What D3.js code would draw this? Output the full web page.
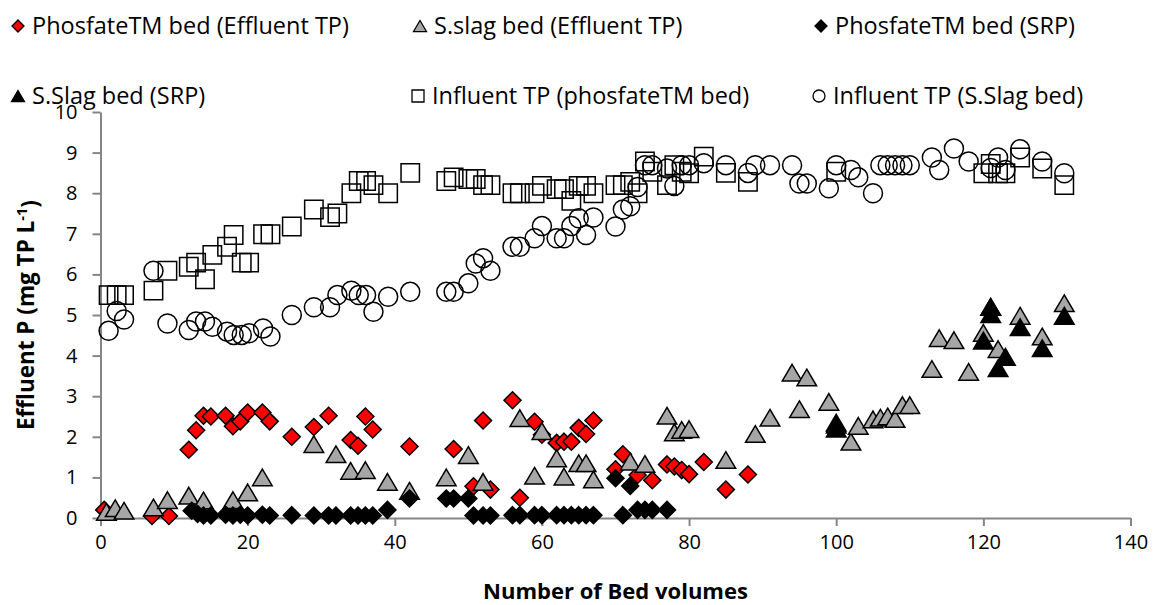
<!DOCTYPE html>
<html><head><meta charset="utf-8">
<script src="https://cdn.jsdelivr.net/npm/d3@7"></script>
<style>html,body{margin:0;padding:0;background:#fff;}svg{display:block;}</style>
</head><body>
<svg id="chart" width="1160" height="605"></svg>
<script>
// ---- data ----
const xTicks = [0,20,40,60,80,100,120,140];
const yTicks = [0,1,2,3,4,5,6,7,8,9,10];
const xTitle = "Number of Bed volumes";
const yTitle = "Effluent P (mg TP L";

const phosEffTP = [[0.5,0.2],[7,0.05],[9.3,0.05],[12,1.68],[13,2.16],[14,2.52],[15,2.5],[17,2.52],[18,2.26],[19,2.38],[20,2.6],[22,2.6],[23,2.38],[26,2.0],[29,2.24],[31,2.52],[34,1.92],[35,1.78],[36,2.5],[37,2.18],[42,1.76],[48,1.7],[50.7,0.78],[52,2.4],[53,0.7],[56,2.9],[57,0.5],[59,2.37],[60,2.05],[62,1.85],[63,1.88],[64,1.88],[65,2.22],[66,2.07],[67,2.4],[70,1.2],[71,1.57],[73,1.06],[75,0.93],[77,1.32],[78,1.27],[79,1.18],[80,1.08],[82,1.38],[85,0.7],[88,1.07]];
const slagEffTP = [[0.8,0.15],[2,0.24],[3.2,0.18],[7.2,0.26],[9.1,0.44],[12,0.55],[14,0.43],[18,0.44],[20,0.63],[22,1.0],[29,1.82],[32,1.57],[34,1.16],[36,1.18],[39,0.89],[42,0.67],[47,1.0],[50,1.55],[52,0.89],[57,2.46],[59,1.04],[60,2.14],[62,1.47],[63,1.02],[65,1.35],[66,1.35],[67,0.95],[72,1.39],[74,1.33],[77,2.52],[78,2.11],[79,2.17],[80,2.19],[85,1.43],[89,2.07],[91,2.47],[94,3.58],[95,2.68],[96,3.46],[99,2.86],[100,2.3],[102,1.88],[103,2.27],[105,2.43],[106,2.47],[107,2.5],[108,2.44],[109,2.78],[110,2.78],[113,3.67],[114,4.43],[116,4.38],[118,3.6],[120,4.56],[121,5.2],[122,4.16],[125,4.98],[128,4.47],[131,5.29]];
const phosSRP = [[12.4,0.18],[13.2,0.1],[14,0.06],[15,0.06],[17,0.08],[18,0.06],[19,0.08],[20,0.06],[22,0.08],[23,0.06],[26,0.07],[29,0.06],[31,0.06],[32,0.06],[34,0.06],[35,0.06],[36,0.06],[37,0.06],[39,0.2],[42,0.48],[47,0.48],[48,0.48],[50,0.48],[50.7,0.06],[52,0.06],[53,0.06],[56,0.07],[57,0.07],[59,0.07],[60,0.07],[62,0.07],[63,0.07],[64,0.07],[65,0.07],[66,0.07],[67,0.07],[70,0.98],[71,0.07],[72,0.79],[73,0.2],[74,0.2],[75,0.2],[77,0.2]];
const slagSRP = [[100,2.35],[100,2.2],[120,4.37],[121,5.2],[121,5.02],[122,3.69],[123,3.97],[125,4.7],[128,4.18],[131,4.98]];
const inflPhos = [[1.1,5.49],[2.2,5.49],[3.2,5.49],[7.2,5.6],[9.1,6.09],[12,6.19],[13,6.29],[14.2,5.88],[15.2,6.48],[17.2,6.68],[18.1,6.97],[19.2,6.29],[20.2,6.29],[22.1,6.99],[23.1,6.99],[26,7.18],[29,7.6],[31.2,7.41],[32.2,7.5],[34.1,8.0],[35.1,8.3],[36.1,8.3],[37.1,8.2],[39.1,8.0],[42.1,8.5],[47,8.3],[48,8.39],[50,8.35],[51,8.35],[52,8.2],[53,8.2],[56,8.0],[57,8.0],[59,8.0],[60,8.18],[62,8.1],[63,8.1],[64,7.81],[65,8.18],[66,8.18],[67,8.0],[70,8.2],[71,8.2],[72,8.28],[73,8.0],[74,8.78],[75,8.53],[77,8.2],[78,8.69],[79,8.53],[80,8.49],[82,8.9],[85,8.5],[88,8.28],[100,8.53],[120,8.49],[121,8.72],[122,8.49],[123,8.49],[125,8.88],[128,8.61],[131,8.2]];
const inflSlag = [[1.1,4.61],[2.2,5.1],[3.2,4.89],[7.2,6.09],[9.1,4.79],[12,4.63],[13,4.84],[14.2,4.84],[15.2,4.71],[17.2,4.59],[18.1,4.51],[19.2,4.51],[20.2,4.55],[22.1,4.67],[23.1,4.47],[26,5.0],[29,5.19],[31.2,5.19],[32.2,5.49],[34.1,5.6],[35.1,5.49],[36.1,5.49],[37.1,5.08],[39.1,5.45],[42.1,5.57],[47,5.57],[48,5.57],[50,5.78],[51,6.27],[52,6.4],[53,6.09],[56,6.68],[57,6.68],[59,6.89],[60,7.19],[62,6.89],[63,6.89],[64,7.19],[65,7.38],[66,6.97],[67,7.4],[70,7.18],[71,7.6],[72,7.68],[73,8.15],[74,8.69],[75,8.69],[77,8.61],[78,8.18],[79,8.69],[80,8.69],[82,8.74],[85,8.69],[88,8.5],[89,8.69],[91,8.69],[94,8.69],[95,8.24],[96,8.24],[99,8.12],[100,8.69],[102,8.57],[103,8.39],[105,8.0],[106,8.69],[107,8.69],[108,8.69],[109,8.69],[110,8.69],[113,8.88],[114,8.57],[116,9.1],[118,8.78],[121,8.62],[122,8.88],[123,8.57],[125,9.08],[128,8.78],[131,8.49]];

const seriesNames = ["PhosfateTM bed (Effluent TP)","S.slag bed (Effluent TP)","PhosfateTM bed (SRP)","S.Slag bed (SRP)","Influent TP (phosfateTM bed)","Influent TP (S.Slag bed)"];

// ---- styles ----
const FONT = "'Open Sans', 'Noto Sans', sans-serif";
const AXIS = "#868686";
const shapes = {
  diamond: s => `M0,${-s}L${s},0L0,${s}L${-s},0Z`,
  triangle: s => `M0,${-s*0.85}L${s},${s*0.85}L${-s},${s*0.85}Z`,
  square: s => `M${-s},${-s}H${s}V${s}H${-s}Z`,
  circle: s => `M${s},0A${s},${s} 0 1,1 ${-s},0A${s},${s} 0 1,1 ${s},0Z`
};
const series = [
  {data: phosEffTP, shape:"diamond", size:8.5, fill:"#ff0000", stroke:"#000", sw:1.5, leg:6},
  {data: slagEffTP, shape:"triangle", size:9.8, fill:"#a6a6a6", stroke:"#000", sw:1.5, leg:6.5},
  {data: phosSRP, shape:"diamond", size:8.5, fill:"#000", stroke:"#000", sw:1.5, leg:6},
  {data: slagSRP, shape:"triangle", size:9.8, fill:"#000", stroke:"#000", sw:1.5, leg:6.5},
  {data: inflPhos, shape:"square", size:9.2, fill:"none", stroke:"#000", sw:1.5, leg:6},
  {data: inflSlag, shape:"circle", size:9.5, fill:"none", stroke:"#000", sw:1.5, leg:6}
];

function fitSize(sel, target){
  const w = sel.node().getComputedTextLength();
  const fs = parseFloat(sel.style("font-size"));
  sel.style("font-size", (fs*target/w).toFixed(2)+"px");
}

const svg = d3.select("#chart");
const x = d3.scaleLinear().domain([0,140]).range([100.5,1130.5]);
const y = d3.scaleLinear().domain([0,10]).range([518,112]);

// axes
const gx = svg.append("g").attr("transform","translate(0,518)")
  .call(d3.axisBottom(x).tickValues(xTicks).tickSize(8).tickPadding(9).tickSizeOuter(0));
const gy = svg.append("g").attr("transform","translate(100.5,0)")
  .call(d3.axisLeft(y).tickValues(yTicks).tickSize(8).tickPadding(15).tickSizeOuter(0));
[gx,gy].forEach(g=>{
  g.select(".domain").attr("stroke",AXIS).attr("stroke-width",2);
  g.selectAll(".tick line").attr("stroke",AXIS).attr("stroke-width",2);
  g.selectAll(".tick text").attr("fill","#000").style("font-family",FONT).style("font-size","20px");
});

// points
series.forEach(s=>{
  svg.append("g").selectAll("path").data(s.data).join("path")
    .attr("transform",d=>`translate(${x(d[0])},${y(d[1])})`)
    .attr("d",shapes[s.shape](s.size))
    .attr("fill",s.fill).attr("stroke",s.stroke).attr("stroke-width",s.sw);
});

// titles
const xt = svg.append("text").attr("x",615.5).attr("y",599).attr("text-anchor","middle")
  .style("font-family",FONT).style("font-size","20px").style("font-weight","bold").text(xTitle);
fitSize(xt, 265);
const yt = svg.append("text").attr("transform","translate(34,315) rotate(-90)").attr("text-anchor","middle")
  .style("font-family",FONT).style("font-size","20px").style("font-weight","bold");
yt.append("tspan").text(yTitle);
yt.append("tspan").attr("dy","-0.45em").style("font-size","0.65em").text("-1");
yt.append("tspan").attr("dy","0.45em").text(")");
fitSize(yt, 230);

// legend
const legPos = [[18,26],[420,26],[821,26],[18,96],[418,96],[819,96]];
const leg = svg.append("g");
let legFont = null;
series.forEach((s,i)=>{
  const [lx,ly] = legPos[i];
  leg.append("path").attr("transform",`translate(${lx},${ly})`).attr("d",shapes[s.shape](s.leg))
    .attr("fill",s.fill==="none"?"#fff":s.fill).attr("stroke","#000").attr("stroke-width",1.3);
  const t = leg.append("text").attr("x",lx+14).attr("y",ly+7.5)
    .style("font-family",FONT).style("font-size","20px").text(seriesNames[i]);
  if(i===0){ fitSize(t, 317); legFont = t.style("font-size"); }
  else t.style("font-size", legFont);
});
</script>
</body></html>
